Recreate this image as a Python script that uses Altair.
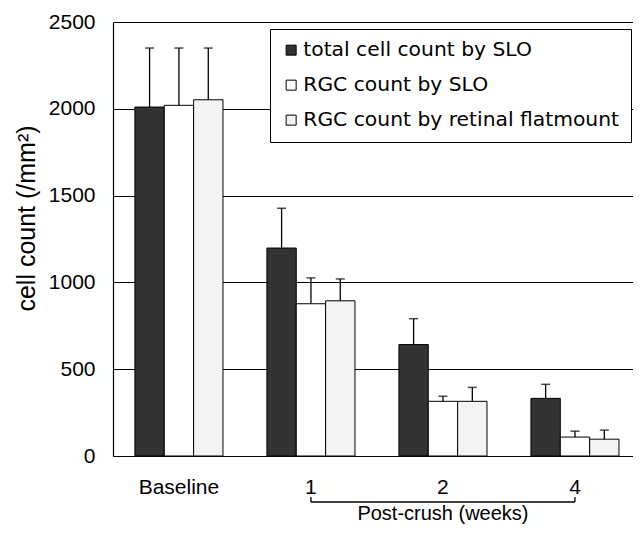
import altair as alt
import pandas as pd

groups = ["Baseline", "1", "2", "4"]
series = ["total cell count by SLO", "RGC count by SLO", "RGC count by retinal flatmount"]
total_vals = [2010, 1198, 642, 332]
total_tops = [2350, 1427, 791, 413]
rgc_slo_vals = [2020, 877, 315, 109]
rgc_slo_tops = [2350, 1026, 344, 143]
flat_vals = [2052, 894, 315, 97]
flat_tops = [2350, 1020, 395, 149]
colors = ["#333333", "#ffffff", "#f3f3f3"]

rows = []
for s, vals, tops in zip(series, [total_vals, rgc_slo_vals, flat_vals], [total_tops, rgc_slo_tops, flat_tops]):
    for g, v, t in zip(groups, vals, tops):
        rows.append({"group": g, "series": s, "value": v, "top": t})
df = pd.DataFrame(rows)

W, H = 520, 434

x_enc = alt.X("group:N", sort=groups, title=None,
              scale=alt.Scale(domain=groups, paddingInner=0.333, paddingOuter=0.136, align=0.61),
              axis=alt.Axis(labelAngle=0, ticks=False, labelPadding=20, labelFontSize=21,
                            labelFont="Liberation Sans", labelColor="black",
                            domainColor="black", domainWidth=1.2))
xo = alt.XOffset("series:N", sort=series, scale=alt.Scale(domain=series, paddingInner=0, paddingOuter=0))

y_enc = alt.Y("value:Q", title="cell count (/mm²)",
              scale=alt.Scale(domain=[0, 2500], nice=False),
              axis=alt.Axis(values=[0, 500, 1000, 1500, 2000, 2500], format="d", ticks=False, tickSize=0,
                            labelPadding=18, labelFontSize=21, labelFont="Liberation Sans",
                            labelColor="black", grid=True, gridColor="black", gridWidth=1,
                            domainColor="black", domainWidth=1.2,
                            titleFont="Liberation Sans", titleFontSize=25, titleFontWeight="normal",
                            titleColor="black", titleX=-87, titleY=196, titleAngle=270,
                            titleAlign="center", titleBaseline="middle"))

bars = alt.Chart(df).mark_bar(stroke="black", strokeWidth=1).encode(
    x=x_enc, xOffset=xo, y=y_enc,
    color=alt.Color("series:N", sort=series,
                    scale=alt.Scale(domain=series, range=colors),
                    legend=alt.Legend(title=None, orient="none", legendX=157, legendY=7,
                                      strokeColor="black", fillColor="white", padding=11,
                                      labelFont="DejaVu Sans", labelFontSize=20.3, labelColor="black",
                                      symbolType="square", symbolSize=100, symbolOffset=0,
                                      symbolStrokeColor="black", symbolStrokeWidth=1,
                                      rowPadding=14, labelOffset=2, labelLimit=400)),
)

err = alt.Chart(df).mark_rule(color="black", strokeWidth=1.3).encode(
    x=alt.X("group:N", sort=groups), xOffset=xo, y="value:Q", y2="top:Q")
caps = alt.Chart(df).mark_tick(color="black", size=9, thickness=1.5, orient="horizontal").encode(
    x=alt.X("group:N", sort=groups), xOffset=xo, y="top:Q")

note = pd.DataFrame({"a": [0]})
bracket = alt.Chart(note).mark_rule(color="black", strokeWidth=1.3).encode(
    x=alt.datum("1"), x2=alt.datum("4"), y=alt.value(H + 46))
hook1 = alt.Chart(note).mark_rule(color="black", strokeWidth=1.3).encode(
    x=alt.datum("1"), y=alt.value(H + 41), y2=alt.value(H + 46))
hook4 = alt.Chart(note).mark_rule(color="black", strokeWidth=1.3).encode(
    x=alt.datum("4"), y=alt.value(H + 41), y2=alt.value(H + 46))
post = alt.Chart(note).mark_text(text="Post-crush (weeks)", font="Liberation Sans", fontSize=20,
                                 color="black", baseline="middle", align="center").encode(
    x=alt.datum("2"), y=alt.value(H + 58))

chart = alt.layer(bars, err, caps, bracket, hook1, hook4, post).properties(
    width=W, height=H,
    autosize=alt.AutoSizeParams(type="none"),
    padding={"left": 105, "top": 14, "right": 0, "bottom": 69},
).configure_view(stroke="black", strokeWidth=1.2).configure(background="white")

chart.save("out.html", embed_options={"renderer": "svg", "actions": False})
